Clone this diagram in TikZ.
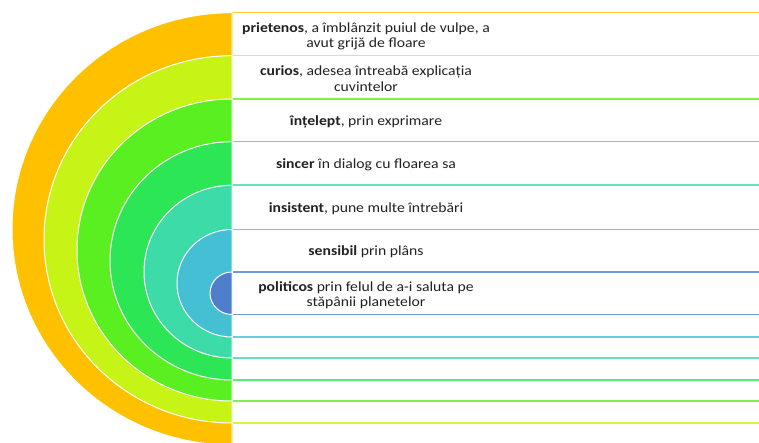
\documentclass[tikz,border=0pt]{standalone}
\usepackage{fontspec}
\setmainfont{Carlito}[FakeStretch=1.12]
\definecolor{cOrange}{HTML}{FFC000}
\definecolor{cYG}{HTML}{C5F416}
\definecolor{cLime}{HTML}{5AEF21}
\definecolor{cGreen}{HTML}{2DE655}
\definecolor{cTeal}{HTML}{3DDBA8}
\definecolor{cBlue}{HTML}{45BFD3}
\definecolor{cDark}{HTML}{4F7FCC}
\definecolor{txt}{HTML}{222222}
\newcommand\lblfont{\fontsize{14}{15.3}\selectfont\lineskiplimit=-20pt\relax}
\tikzset{
  ring/.style={fill=#1, draw=white, line width=1pt},
  rowbox/.style={fill=white, draw=#1!80!white, line width=1.6pt},
  label/.style={font=\lblfont, text=txt, align=center, inner sep=0pt, anchor=base}
}
\begin{document}
\begin{tikzpicture}[x=1pt,y=-1pt]
\useasboundingbox (0,0) rectangle (759,443);
\clip (0,0) rectangle (759,443);
\fill[white] (0,0) rectangle (759,443);
% row rectangles (outer to inner)
\draw[rowbox=cOrange] (232,12.7) rectangle (770,445.5);
\draw[rowbox=cYG]     (232,55.7) rectangle (770,423);
\draw[rowbox=cLime]   (232,99)   rectangle (770,401);
\draw[rowbox=cGreen]  (232,141.7) rectangle (770,380);
\draw[rowbox=cTeal]   (232,185.3) rectangle (770,358);
\draw[rowbox=cBlue]   (232,229.5) rectangle (770,337);
\draw[rowbox=cDark]   (232,272)  rectangle (770,314.5);
% half rings
\filldraw[ring=cOrange] (232,12.7) arc[start angle=270,end angle=90,x radius=220,y radius=216.15] -- cycle;
\filldraw[ring=cYG]     (232,55.7) arc[start angle=270,end angle=90,x radius=188,y radius=183.65] -- cycle;
\filldraw[ring=cLime]   (232,99)   arc[start angle=270,end angle=90,x radius=155,y radius=151] -- cycle;
\filldraw[ring=cGreen]  (232,141.7) arc[start angle=270,end angle=90,x radius=122,y radius=119.15] -- cycle;
\filldraw[ring=cTeal]   (232,185.3) arc[start angle=270,end angle=90,x radius=88,y radius=86.35] -- cycle;
\filldraw[ring=cBlue]   (232,229.5) arc[start angle=270,end angle=90,x radius=55,y radius=53.75] -- cycle;
\filldraw[ring=cDark]   (232,272)  arc[start angle=270,end angle=90,x radius=22,y radius=21.25] -- cycle;
% labels
\node[label] (t1) at (366,48.0) {\textbf{prietenos}, a îmblânzit puiul de vulpe, a\\avut grijă de floare};
\node[label] (t2) at (366,91.2) {\textbf{curios}, adesea întreabă explicația\\cuvintelor};
\node[label] (t3) at (366,125.7) {\textbf{înțelept}, prin exprimare};
\node[label] (t4) at (366,168.9) {\textbf{sincer} în dialog cu floarea sa};
\node[label] (t5) at (366,212.8) {\textbf{insistent}, pune multe întrebări};
\node[label] (t6) at (366,255.5) {\textbf{sensibil} prin plâns};
\node[label] (t7) at (366,306.5) {\textbf{politicos} prin felul de a-i saluta pe\\stăpânii planetelor};
\end{tikzpicture}
\end{document}
